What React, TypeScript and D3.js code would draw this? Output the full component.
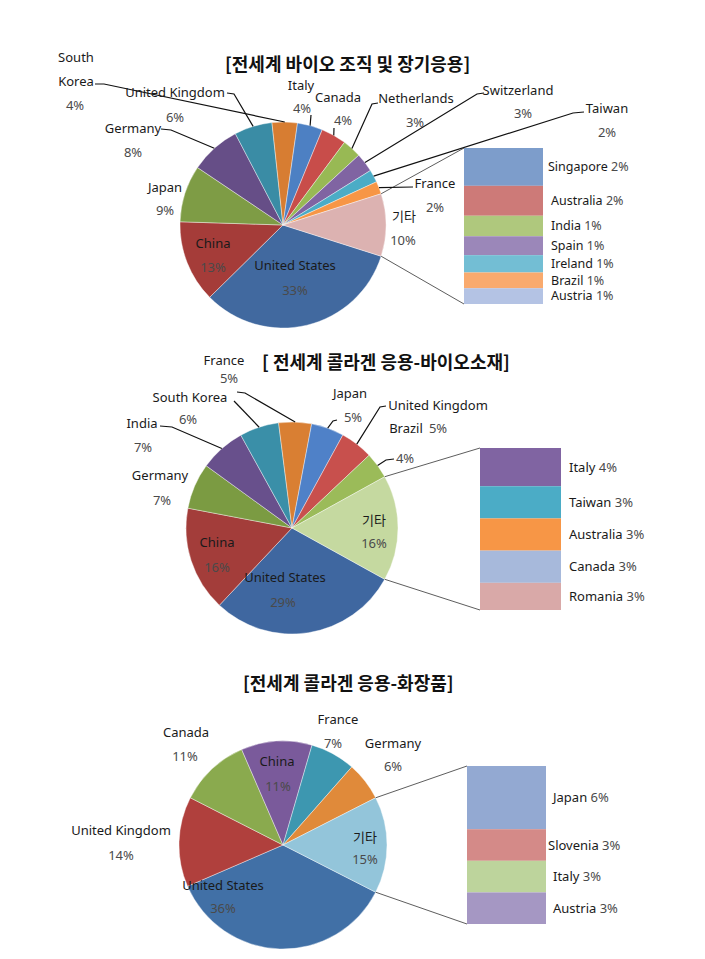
import React from "react";
import * as d3 from "d3";

// ---------- DATA ----------
const otherName = "기타";

// Chart 1
const c1Title = "[전세계 바이오 조직 및 장기응용]";
const c1Names = ["United States", "China", "Japan", "Germany", "United Kingdom", "South Korea", "Italy", "Canada", "Netherlands", "Switzerland", "Taiwan", "France"];
const c1Values = [33, 13, 9, 8, 6, 4, 4, 4, 3, 3, 2, 2];
const c1SubNames = ["Singapore", "Australia", "India", "Spain", "Ireland", "Brazil", "Austria"];
const c1SubValues = [2.4, 1.9, 1.3, 1.2, 1.1, 1.0, 1.0];

// Chart 2
const c2Title = "[ 전세계 콜라겐 응용-바이오소재]";
const c2Names = ["United States", "China", "Germany", "India", "South Korea", "France", "Japan", "United Kingdom", "Brazil"];
const c2Values = [29, 16, 7, 7, 6, 5, 5, 5, 4];
const c2SubNames = ["Italy", "Taiwan", "Australia", "Canada", "Romania"];
const c2SubValues = [3.8, 3.2, 3.2, 3.2, 2.7];

// Chart 3
const c3Title = "[전세계 콜라겐 응용-화장품]";
const c3Names = ["United States", "United Kingdom", "Canada", "China", "France", "Germany"];
const c3Values = [36, 14, 11, 11, 7, 6];
const c3SubNames = ["Japan", "Slovenia", "Italy", "Austria"];
const c3SubValues = [6, 3, 3, 3];

// ---------- STYLES ----------
const c1Colors = ["#41699F", "#A53C39", "#7E9C45", "#664E87", "#3A8CA5", "#D77D32", "#4D80C3", "#C84D4A", "#98B954", "#8064A2", "#4BACC6", "#F79646"];
const c1Other = "#DCB2B1";
const c1SubColors = ["#7D9DCB", "#CD7A78", "#AFC87D", "#9B87B9", "#73BED4", "#F9AA6E", "#B4C3E4"];

const c2Colors = ["#3F67A0", "#A33D3A", "#7B9B42", "#68508C", "#3A8FA8", "#D97F33", "#4F81C8", "#C8504D", "#9BBB59"];
const c2Other = "#C5D9A0";
const c2SubColors = ["#8064A2", "#4BACC6", "#F79646", "#A7B9DB", "#D9A9A8"];

const c3Colors = ["#4170A6", "#B0403D", "#8AAA4E", "#7A5A9B", "#3D97B0", "#E08A3A"];
const c3Other = "#93C5DA";
const c3SubColors = ["#93A9D2", "#D48A88", "#BDD49C", "#A597C3"];

type Pt = [number, number];
type LabelLayout = { name: Pt; pct: Pt; lines?: string[]; leader?: Pt[] };

// ---------- LAYOUT ----------
const c1Labels: LabelLayout[] = [
  { name: [295, 265], pct: [295, 290] },
  { name: [213, 243], pct: [213, 267] },
  { name: [165, 187], pct: [165, 210] },
  { name: [133, 128], pct: [133, 152], leader: [[161, 129], [171, 130]] },
  { name: [175, 92], pct: [175, 117], leader: [[227, 93], [234, 94]] },
  { name: [76, 57], pct: [75, 105], lines: ["South", "Korea"], leader: [[95, 84], [104, 84]] },
  { name: [301, 85], pct: [302, 108], leader: [[311, 115]] },
  { name: [338, 97], pct: [343, 120], leader: [[334, 128]] },
  { name: [416, 98], pct: [415, 122], leader: [[378, 103], [372, 104]] },
  { name: [518, 90], pct: [523, 113], leader: [[484, 93], [477, 94]] },
  { name: [607, 108], pct: [607, 132], leader: [[584, 112], [573, 113]] },
  { name: [435, 183], pct: [435, 207], leader: [[413, 187]] },
  { name: [404, 216], pct: [403, 240] },
];
const c1Bar = { x0: 464, x1: 543, y0: 148, y1: 304 };
const c1SubX = [548, 551, 551, 551, 551, 551, 551];

const c2Labels: LabelLayout[] = [
  { name: [285, 577], pct: [283, 602] },
  { name: [217, 542], pct: [217, 567] },
  { name: [160, 475], pct: [162, 500] },
  { name: [142, 423], pct: [143, 447], leader: [[160, 426], [172, 427]] },
  { name: [190, 397], pct: [188, 419], leader: [[234, 401]] },
  { name: [224, 360], pct: [229, 378], leader: [[237, 392], [245, 393]] },
  { name: [350, 393], pct: [353, 417], leader: [[337, 420], [333, 421]] },
  { name: [438, 405], pct: [438, 428], leader: [[386, 406], [380, 407]] },
  { name: [406, 428], pct: [405, 458], leader: [[394, 459], [386, 460]] },
  { name: [374, 520], pct: [374, 543] },
];
const c2Bar = { x0: 480, x1: 561, y0: 448, y1: 610 };
const c2SubX = [569, 569, 569, 569, 569];

const c3Labels: LabelLayout[] = [
  { name: [223, 885], pct: [223, 908] },
  { name: [121, 830], pct: [121, 855] },
  { name: [186, 732], pct: [185, 756] },
  { name: [277, 761], pct: [278, 786] },
  { name: [338, 719], pct: [333, 743] },
  { name: [393, 743], pct: [393, 766] },
  { name: [365, 837], pct: [365, 859] },
];
const c3Bar = { x0: 467, x1: 546, y0: 766, y1: 924 };
const c3SubX = [553, 548, 553, 553];

const FONT = "'Noto Sans', 'Noto Sans CJK KR', sans-serif";
const NAME_COLOR = "#1a1a1a";
const PCT_COLOR = "#4a4a4a";

const pctText = (v: number) => `${Math.round(v)}%`;

type ChartProps = {
  title: string;
  titlePos: Pt;
  cx: number;
  cy: number;
  r: number;
  names: string[];
  values: number[];
  colors: string[];
  otherColor: string;
  subNames: string[];
  subValues: number[];
  subColors: string[];
  bar: { x0: number; x1: number; y0: number; y1: number };
  subX: number[];
  subFont: number;
  labels: LabelLayout[];
};

function PieOfPie(p: ChartProps) {
  const otherValue = d3.sum(p.subValues);
  const all = [
    ...p.values.map((v, i) => ({ name: p.names[i], value: v, color: p.colors[i] })),
    { name: otherName, value: otherValue, color: p.otherColor },
  ];
  const total = d3.sum(all, (d) => d.value);
  const otherAngle = (otherValue / total) * 2 * Math.PI;
  const start = Math.PI / 2 + otherAngle / 2;
  const pie = d3
    .pie<any>()
    .value((d: any) => d.value)
    .sort(null)
    .startAngle(start)
    .endAngle(start + 2 * Math.PI);
  const arcs = pie(all);
  const arcGen = d3.arc<any>().innerRadius(0).outerRadius(p.r);
  const pt = (a: number, rr = p.r): Pt => [p.cx + rr * Math.sin(a), p.cy - rr * Math.cos(a)];

  const otherArc = arcs[arcs.length - 1];
  const topPt = pt(otherArc.startAngle);
  const botPt = pt(otherArc.endAngle);

  const y = d3.scaleLinear().domain([0, otherValue]).range([p.bar.y0, p.bar.y1]);
  const cum: number[] = [];
  p.subValues.reduce((acc, v) => {
    cum.push(acc);
    return acc + v;
  }, 0);

  const line = d3.line<Pt>();

  return (
    <g>
      <text
        x={p.titlePos[0]}
        y={p.titlePos[1]}
        dy="0.35em"
        textAnchor="start"
        fontFamily="'Noto Sans CJK KR', sans-serif"
        fontWeight="bold"
        fontSize={18}
        fill="#111"
      >
        {p.title}
      </text>
      {arcs.map((a, i) => (
        <path key={i} d={arcGen(a) as string} transform={`translate(${p.cx},${p.cy})`} fill={a.data.color} stroke="#fff" strokeWidth={0.4} />
      ))}
      {/* connectors */}
      <path d={line([[p.bar.x0, p.bar.y0], topPt]) as string} stroke="#333" strokeWidth={0.8} fill="none" />
      <path d={line([[p.bar.x0, p.bar.y1], botPt]) as string} stroke="#333" strokeWidth={0.8} fill="none" />
      {/* secondary bar */}
      {p.subValues.map((v, i) => (
        <rect key={i} x={p.bar.x0} width={p.bar.x1 - p.bar.x0} y={y(cum[i])} height={y(cum[i] + v) - y(cum[i])} fill={p.subColors[i]} />
      ))}
      {p.subValues.map((v, i) => (
        <text key={i} x={p.subX[i]} y={(y(cum[i]) + y(cum[i] + v)) / 2} dy="0.35em" fontFamily={FONT} fontSize={p.subFont}>
          <tspan fill={NAME_COLOR}>{p.subNames[i]} </tspan>
          <tspan fill={PCT_COLOR}>{pctText(v)}</tspan>
        </text>
      ))}
      {/* leader lines */}
      {arcs.map((a, i) => {
        const l = p.labels[i];
        if (!l || !l.leader) return null;
        const mid = (a.startAngle + a.endAngle) / 2;
        const pts: Pt[] = [...l.leader, pt(mid)];
        return <path key={i} d={line(pts) as string} stroke="#111" strokeWidth={1.2} fill="none" />;
      })}
      {/* labels */}
      {arcs.map((a, i) => {
        const l = p.labels[i];
        if (!l) return null;
        const lines = l.lines || [a.data.name];
        return (
          <g key={i} fontFamily={FONT} fontSize={13}>
            {lines.map((s, j) => (
              <text key={j} x={l.name[0]} y={l.name[1] + j * 24} dy="0.35em" textAnchor="middle" fill={NAME_COLOR}>
                {s}
              </text>
            ))}
            <text x={l.pct[0]} y={l.pct[1]} dy="0.35em" textAnchor="middle" fill={PCT_COLOR}>
              {pctText(a.data.value)}
            </text>
          </g>
        );
      })}
    </g>
  );
}

export default function App() {
  return (
    <svg width={705} height={959} style={{ position: "absolute", left: 0, top: 0, background: "#fff" }}>
      <rect width={705} height={959} fill="#fff" />
      <PieOfPie
        title={c1Title}
        titlePos={[225, 65]}
        cx={283}
        cy={225}
        r={103}
        names={c1Names}
        values={c1Values}
        colors={c1Colors}
        otherColor={c1Other}
        subNames={c1SubNames}
        subValues={c1SubValues}
        subColors={c1SubColors}
        bar={c1Bar}
        subX={c1SubX}
        subFont={12.5}
        labels={c1Labels}
      />
      <PieOfPie
        title={c2Title}
        titlePos={[262, 363]}
        cx={292}
        cy={528}
        r={106}
        names={c2Names}
        values={c2Values}
        colors={c2Colors}
        otherColor={c2Other}
        subNames={c2SubNames}
        subValues={c2SubValues}
        subColors={c2SubColors}
        bar={c2Bar}
        subX={c2SubX}
        subFont={13}
        labels={c2Labels}
      />
      <PieOfPie
        title={c3Title}
        titlePos={[243, 684]}
        cx={283}
        cy={845}
        r={104}
        names={c3Names}
        values={c3Values}
        colors={c3Colors}
        otherColor={c3Other}
        subNames={c3SubNames}
        subValues={c3SubValues}
        subColors={c3SubColors}
        bar={c3Bar}
        subX={c3SubX}
        subFont={13}
        labels={c3Labels}
      />
    </svg>
  );
}
